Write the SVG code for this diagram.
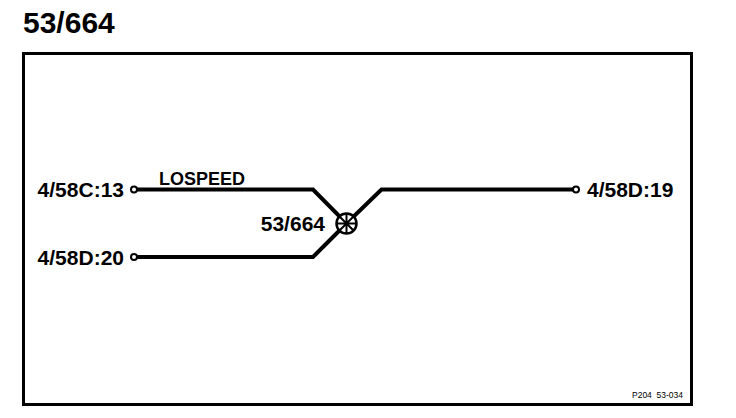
<svg xmlns="http://www.w3.org/2000/svg" width="736" height="418" viewBox="0 0 736 418">
<style>
text{font-family:"Liberation Sans",Arial,sans-serif;font-weight:bold;fill:#000}
.l{font-size:21px}
.s{font-size:8.5px;font-weight:normal}
.w{fill:none;stroke:#000;stroke-width:4}
.t{fill:#fff;stroke:#000;stroke-width:2}
</style>
<rect width="736" height="418" fill="#fff"/>
<text x="23" y="33" font-size="30">53/664</text>
<rect x="23.500" y="53.500" width="668" height="351" fill="none" stroke="#000" stroke-width="3"/>
<g id="connectors">
<path class="w" d="M137 189.500H313L346.500 223.500L381.500 189.500H573"/>
<path class="w" d="M137 257H313L346.500 223.500"/>
</g>
<g id="splice"><circle cx="346.500" cy="223.500" r="10" fill="#fff" stroke="#000" stroke-width="2.500"/><path d="M336.500 223.500H356.500M346.500 213.500V233.500M339.500 216.500L353.500 230.500M353.500 216.500L339.500 230.500" stroke="#000" stroke-width="2"/><text class="l" x="325" y="231" text-anchor="end">53/664</text></g>
<g id="n1"><circle class="t" cx="134" cy="189.500" r="3"/><text class="l" x="124" y="197" text-anchor="end">4/58C:13</text></g>
<g id="n2"><circle class="t" cx="134" cy="257" r="3"/><text class="l" x="124" y="265" text-anchor="end">4/58D:20</text></g>
<g id="n3"><circle class="t" cx="576" cy="189.500" r="3"/><text class="l" x="587" y="197">4/58D:19</text></g>
<text x="159" y="185" font-size="18">LOSPEED</text>
<text class="s" x="632" y="398" xml:space="preserve">P204  53-034</text>
</svg>
